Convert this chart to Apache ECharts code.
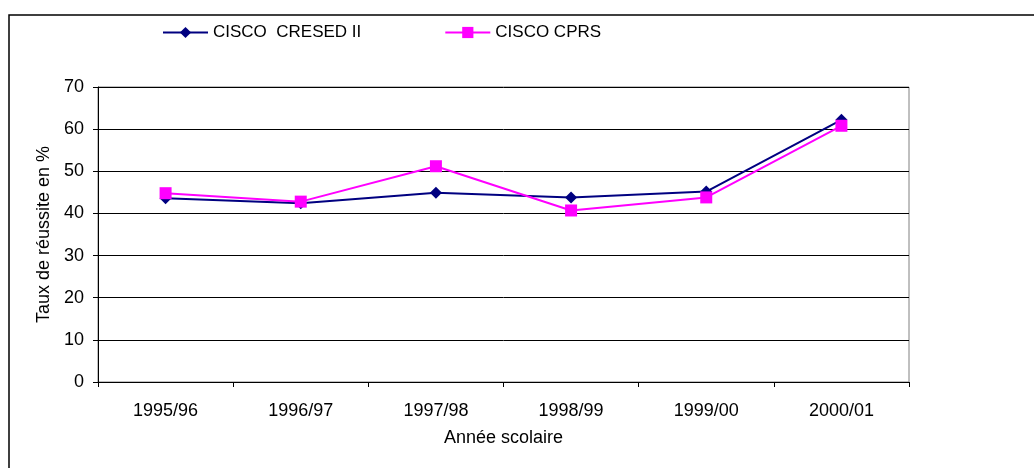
<!DOCTYPE html>
<html>
<head>
<meta charset="utf-8">
<script src="https://cdn.jsdelivr.net/npm/echarts@6/dist/echarts.min.js"></script>
<style>
html,body{margin:0;padding:0;background:#fff;}
#chart{width:1034px;height:468px;}
</style>
</head>
<body>
<div id="chart"></div>
<script>
const categories = ['1995/96','1996/97','1997/98','1998/99','1999/00','2000/01'];
const cresed = [43.6, 42.4, 44.9, 43.8, 45.2, 62.2];
const cprs = [44.8, 42.8, 51.2, 40.7, 43.8, 60.8];
const seriesNames = ['CISCO  CRESED II', 'CISCO CPRS'];

const font = 'Liberation Sans, Arial, sans-serif';
const fs = 18;
const chart = echarts.init(document.getElementById('chart'));
chart.setOption({
  animation: false,
  backgroundColor: '#fff',
  graphic: [{
    type: 'rect', silent: true,
    shape: {x: 9, y: 15, width: 1100, height: 600},
    style: {fill: 'none', stroke: '#000', lineWidth: 1.5}
  }],
  legend: {
    left: 157, top: 19,
    itemWidth: 45, itemHeight: 14, itemGap: 83,
    textStyle: {fontFamily: font, fontSize: 17, color: '#000'},
    data: seriesNames
  },
  grid: {
    left: 98, right: 125, top: 87, bottom: 86,
    show: true, borderColor: '#808080', borderWidth: 1
  },
  xAxis: {
    type: 'category', data: categories, boundaryGap: true,
    axisLine: {lineStyle: {color: '#000', width: 1}},
    axisTick: {show: true, length: 5, lineStyle: {color: '#000'}},
    axisLabel: {fontFamily: font, fontSize: fs, color: '#000', margin: 20},
    name: 'Année scolaire', nameLocation: 'middle', nameGap: 47,
    nameTextStyle: {fontFamily: font, fontSize: fs, color: '#000'}
  },
  yAxis: {
    type: 'value', min: 0, max: 70, interval: 10,
    axisLine: {show: true, lineStyle: {color: '#000', width: 1}},
    axisTick: {show: true, length: 5, lineStyle: {color: '#000'}},
    axisLabel: {fontFamily: font, fontSize: fs, color: '#000', margin: 14},
    splitLine: {show: true, lineStyle: {color: '#000', width: 1}},
    name: 'Taux de réussite en %', nameLocation: 'middle', nameGap: 41,
    nameTextStyle: {fontFamily: font, fontSize: fs, color: '#000'}
  },
  series: [{
    name: seriesNames[0], type: 'line', data: cresed,
    symbol: 'diamond', symbolSize: 12,
    lineStyle: {color: '#000080', width: 2},
    itemStyle: {color: '#000080'}
  }, {
    name: seriesNames[1], type: 'line', data: cprs,
    symbol: 'rect', symbolSize: 12,
    lineStyle: {color: '#FF00FF', width: 2},
    itemStyle: {color: '#FF00FF'}
  }]
});
</script>
</body>
</html>
